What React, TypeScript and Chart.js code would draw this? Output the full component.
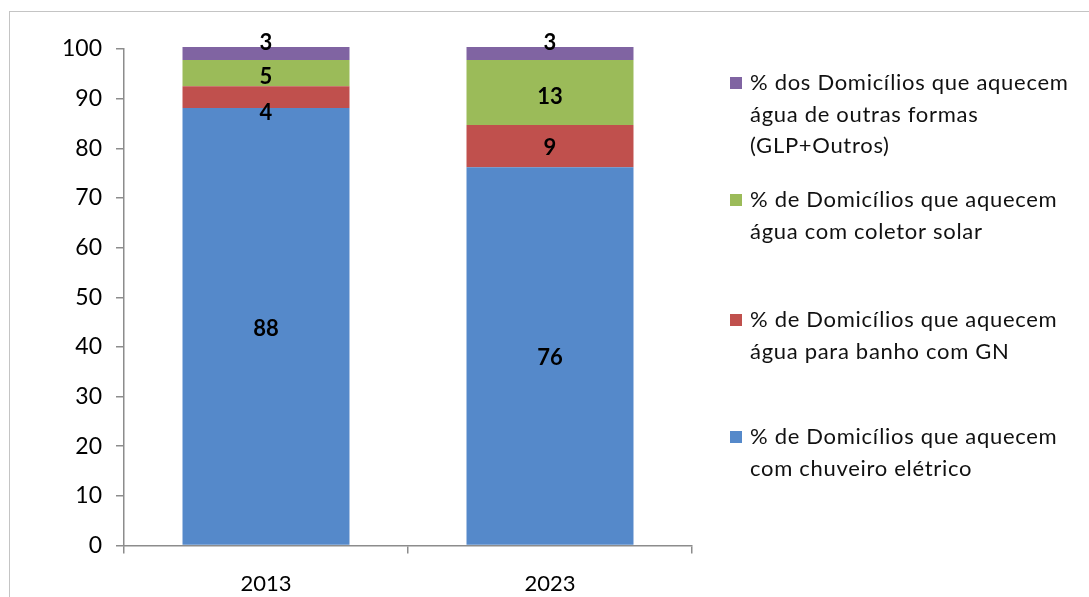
import React, { useEffect, useRef } from "react";
import { Chart, registerables } from "chart.js";

Chart.register(...registerables);

const categories = ["2013", "2023"];
const chuveiroEletrico = [88.1, 76.2];
const gasNatural = [4.4, 8.5];
const coletorSolar = [5.3, 13.1];
const outrasFormas = [2.6, 2.6];
const yTicks = [0, 10, 20, 30, 40, 50, 60, 70, 80, 90, 100];

const seriesNames = [
  "% de Domicílios que aquecem\ncom chuveiro elétrico",
  "% de Domicílios que aquecem\nágua para banho com GN",
  "% de Domicílios que aquecem\nágua com coletor solar",
  "% dos Domicílios que aquecem\nágua de outras formas\n(GLP+Outros)",
];
const seriesColors = ["#5589CA", "#C0504D", "#9BBB59", "#8064A2"];

const FONT = "Lato, 'Open Sans', sans-serif";

// label nudges (px) per dataset/point, to follow the reference placement
const labelNudge = [
  [2, 2],
  [16, 2],
  [4, 4],
  [-11, -11],
];

const labelsPlugin = {
  id: "segLabels",
  afterDatasetsDraw(chart: any) {
    const ctx = chart.ctx;
    ctx.save();
    ctx.font = `bold 22px ${FONT}`;
    ctx.fillStyle = "#000";
    ctx.textAlign = "center";
    ctx.textBaseline = "middle";
    chart.data.datasets.forEach((ds: any, di: number) => {
      const meta = chart.getDatasetMeta(di);
      meta.data.forEach((el: any, i: number) => {
        const v = ds.data[i];
        const y = (el.y + el.base) / 2 + labelNudge[di][i];
        ctx.fillText(String(Math.round(v)), el.x, y);
      });
    });
    ctx.restore();
  },
};

const legendPlugin = {
  id: "sideLegend",
  afterDraw(chart: any) {
    const ctx = chart.ctx;
    ctx.save();
    ctx.font = `22px ${FONT}`;
    try {
      (ctx as any).letterSpacing = "0.7px";
    } catch (e) {}
    ctx.textBaseline = "middle";
    ctx.textAlign = "left";
    const order = [3, 2, 1, 0];
    const startY = [83, 200, 320, 437];
    order.forEach((di, k) => {
      const ds = chart.data.datasets[di];
      const y0 = startY[k];
      ctx.fillStyle = ds.backgroundColor;
      ctx.fillRect(730, y0 - 6, 12, 12);
      ctx.fillStyle = "#111";
      String(ds.label)
        .split("\n")
        .forEach((line: string, li: number) => {
          ctx.fillText(line, 750, y0 + li * 31.5);
        });
    });
    ctx.restore();
  },
};

export default function App() {
  const ref = useRef<HTMLCanvasElement | null>(null);

  useEffect(() => {
    if (!ref.current) return;
    const datasets = [chuveiroEletrico, gasNatural, coletorSolar, outrasFormas].map((d, i) => ({
      label: seriesNames[i],
      data: d,
      backgroundColor: seriesColors[i],
      borderWidth: 0,
      barPercentage: 1,
      categoryPercentage: 0.588,
      clip: false as any,
    }));
    const chart = new Chart(ref.current, {
      type: "bar",
      data: { labels: categories, datasets },
      plugins: [labelsPlugin, legendPlugin],
      options: {
        responsive: false,
        animation: false,
        layout: { padding: { left: 0, right: 397, top: 49, bottom: 0 } },
        plugins: { legend: { display: false }, tooltip: { enabled: false } },
        scales: {
          x: {
            stacked: true,
            grid: {
              display: true,
              drawOnChartArea: false,
              drawTicks: true,
              tickLength: 8,
              color: "#8c8c8c",
              lineWidth: 1.5,
            },
            border: { display: true, color: "#8c8c8c", width: 1.5 },
            ticks: {
              color: "#000",
              font: { family: FONT, size: 22 },
              padding: 17,
            },
            afterFit(scale: any) {
              scale.height = 51.5;
            },
          },
          y: {
            stacked: true,
            min: 0,
            max: 100,
            afterBuildTicks(scale: any) {
              scale.ticks = yTicks.map((v) => ({ value: v }));
            },
            grid: {
              display: true,
              drawOnChartArea: false,
              drawTicks: true,
              tickLength: 8,
              color: "#8c8c8c",
              lineWidth: 1.5,
            },
            border: { display: true, color: "#8c8c8c", width: 1.5 },
            ticks: {
              color: "#000",
              font: { family: FONT, size: 23 },
              padding: 14,
            },
            afterFit(scale: any) {
              scale.width = 124;
            },
          },
        },
      },
    });
    return () => chart.destroy();
  }, []);

  return (
    <div style={{ position: "absolute", left: 0, top: 0, width: 1089, height: 597, background: "#fff", overflow: "hidden" }}>
      <div
        style={{
          position: "absolute",
          left: 9,
          top: 11,
          width: 1100,
          height: 600,
          borderTop: "1.5px solid #c4c4c4",
          borderLeft: "1.5px solid #c4c4c4",
        }}
      />
      <canvas ref={ref} width={1089} height={597} style={{ position: "absolute", left: 0, top: 0 }} />
    </div>
  );
}
